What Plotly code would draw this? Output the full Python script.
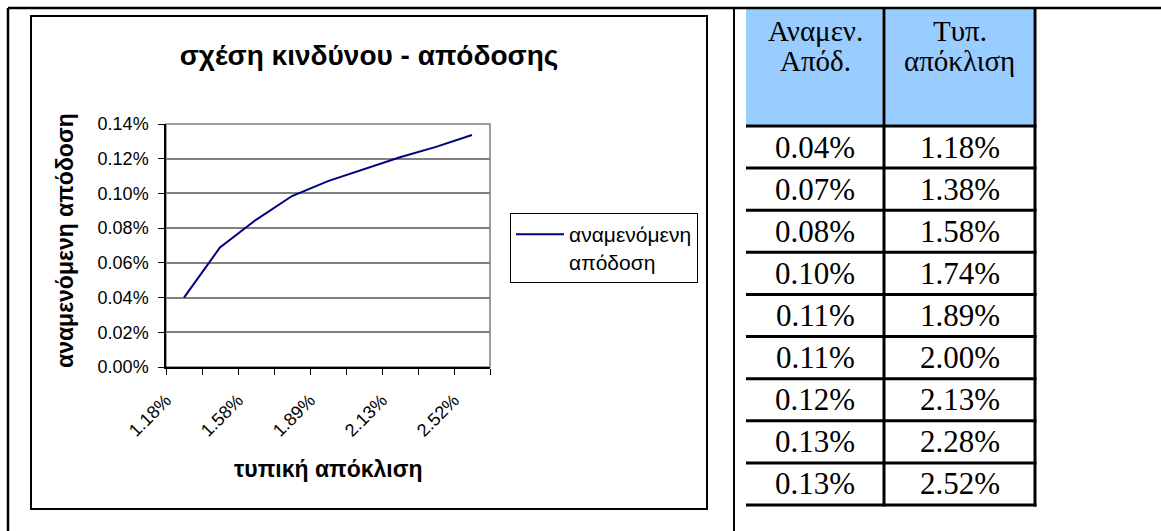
import plotly.graph_objects as go

# Risk / return data (per cent)
std_dev = [1.18, 1.38, 1.58, 1.74, 1.89, 2.00, 2.13, 2.28, 2.52]
exp_ret = [0.0400, 0.0689, 0.0848, 0.0985, 0.1071, 0.1139, 0.1208, 0.1268, 0.1337]

series_name = "αναμενόμενη<br>απόδοση"
chart_title = "σχέση κινδύνου - απόδοσης"
x_title = "τυπική απόκλιση"
y_title = "αναμενόμενη απόδοση"
header_col1 = ["Αναμεν.", "Απόδ."]
header_col2 = ["Τυπ.", "απόκλιση"]

W, H = 1161, 531
SANS = "Liberation Sans"
SERIF = "Liberation Serif"


def px(x):
    return x / W


def py(y):
    return 1 - y / H


idx = list(range(len(std_dev)))
x_labels = [f"{v:.2f}%" for v in std_dev]

fig = go.Figure()
fig.add_trace(go.Scatter(
    x=idx, y=exp_ret, mode="lines", name=series_name,
    line=dict(color="#000080", width=2),
))

shapes = []
annotations = []


def hline(x0, x1, y, w=2, color="black"):
    shapes.append(dict(type="line", xref="paper", yref="paper",
                       x0=px(x0), x1=px(x1), y0=py(y), y1=py(y),
                       line=dict(color=color, width=w)))


def vline(x, y0, y1, w=2, color="black"):
    shapes.append(dict(type="line", xref="paper", yref="paper",
                       x0=px(x), x1=px(x), y0=py(y0), y1=py(y1),
                       line=dict(color=color, width=w)))


# outer page frame
hline(8, W, 8, 2.5)
vline(8, 8, H, 2.5)
vline(734, 8, H, 2)

# chart area frame
shapes.append(dict(type="rect", xref="paper", yref="paper",
                   x0=px(31), x1=px(707), y0=py(509), y1=py(16),
                   line=dict(color="black", width=2)))

# plot area border (grey)
shapes.append(dict(type="rect", xref="x domain", yref="y domain",
                   x0=0, x1=1, y0=0, y1=1, layer="below",
                   line=dict(color="#808080", width=1.5)))

# table geometry
t_left, t_mid, t_right = 746, 884, 1035
t_top, head_bot = 9, 126
n_rows = len(std_dev)
row_h = (505 - head_bot) / n_rows

# header fills
shapes.append(dict(type="rect", xref="paper", yref="paper", layer="below",
                   x0=px(t_left), x1=px(t_mid - 1.5), y0=py(head_bot), y1=py(t_top),
                   fillcolor="#99CCFF", line=dict(width=0)))
shapes.append(dict(type="rect", xref="paper", yref="paper", layer="below",
                   x0=px(t_mid + 1.5), x1=px(t_right - 1.5), y0=py(head_bot), y1=py(t_top),
                   fillcolor="#99CCFF", line=dict(width=0)))

# table rules
for k in range(n_rows + 1):
    hline(t_left, t_right + 1.5, head_bot + k * row_h, 3)
vline(t_mid, 8, 505 + 1.5, 3)
vline(t_right, 8, 505 + 1.5, 3)

c1 = (t_left + t_mid) / 2
c2 = (t_mid + t_right) / 2

# header text, one annotation per line (tight leading)
for j, (a, b) in enumerate(zip(header_col1, header_col2)):
    yy = 31 + j * 30
    for cx, txt in ((c1, a), (c2, b)):
        annotations.append(dict(x=px(cx), y=py(yy), xref="paper", yref="paper",
                                text=txt, showarrow=False, xanchor="center", yanchor="middle",
                                font=dict(family=SERIF, size=29, color="black")))

# table values
for i in range(n_rows):
    yc = head_bot + (i + 0.5) * row_h
    for cx, txt in ((c1, f"{exp_ret[i]:.2f}%"), (c2, f"{std_dev[i]:.2f}%")):
        annotations.append(dict(x=px(cx), y=py(yc), xref="paper", yref="paper",
                                text=txt, showarrow=False, xanchor="center", yanchor="middle",
                                font=dict(family=SERIF, size=31, color="black")))

# axis titles
annotations.append(dict(x=px(328), y=py(469), xref="paper", yref="paper",
                        text=x_title, showarrow=False, xanchor="center", yanchor="middle",
                        font=dict(family=SANS, size=23, color="black", weight="bold")))
annotations.append(dict(x=px(65), y=py(241), xref="paper", yref="paper",
                        text=y_title, showarrow=False, textangle=-90,
                        xanchor="center", yanchor="middle",
                        font=dict(family=SANS, size=23, color="black", weight="bold")))

fig.update_layout(
    width=W, height=H,
    margin=dict(l=0, r=0, t=0, b=0, autoexpand=False),
    paper_bgcolor="white", plot_bgcolor="white",
    title=dict(text=chart_title, x=px(369), y=py(55), xref="paper", yref="paper",
               xanchor="center", yanchor="middle", automargin=False,
               font=dict(family=SANS, size=28, color="black", weight="bold")),
    showlegend=True,
    legend=dict(x=px(510), y=py(213), xanchor="left", yanchor="top",
                bordercolor="black", borderwidth=1, bgcolor="white",
                itemwidth=48, valign="top",
                font=dict(family=SANS, size=21, color="black")),
    shapes=shapes,
    annotations=annotations,
    xaxis=dict(
        domain=[px(166), px(490)],
        range=[-0.5, len(std_dev) - 0.5],
        tickvals=idx[::2], ticktext=x_labels[::2],
        tickangle=-45, ticks="", showgrid=False, zeroline=False,
        showline=True, linecolor="black", linewidth=1.5,
        automargin=False,
        ticklabelstandoff=14, ticklabelshift=-18,
        tickfont=dict(family=SANS, size=18, color="black"),
        minor=dict(tickvals=[i - 0.5 for i in range(len(std_dev) + 1)],
                   ticks="outside", ticklen=6, tickcolor="black", tickwidth=1,
                   showgrid=False),
        fixedrange=True,
    ),
    yaxis=dict(
        domain=[py(367), py(124)],
        range=[0, 0.14], dtick=0.02, tickformat=".2f", ticksuffix="%",
        ticks="outside", ticklen=6, tickcolor="black",
        showgrid=True, gridcolor="#808080", gridwidth=1.5, zeroline=False,
        showline=True, linecolor="black", linewidth=1.5,
        automargin=False,
        ticklabelstandoff=6,
        tickfont=dict(family=SANS, size=18, color="black"),
        fixedrange=True,
    ),
)

fig.write_html("out.html", config={"displayModeBar": False})
